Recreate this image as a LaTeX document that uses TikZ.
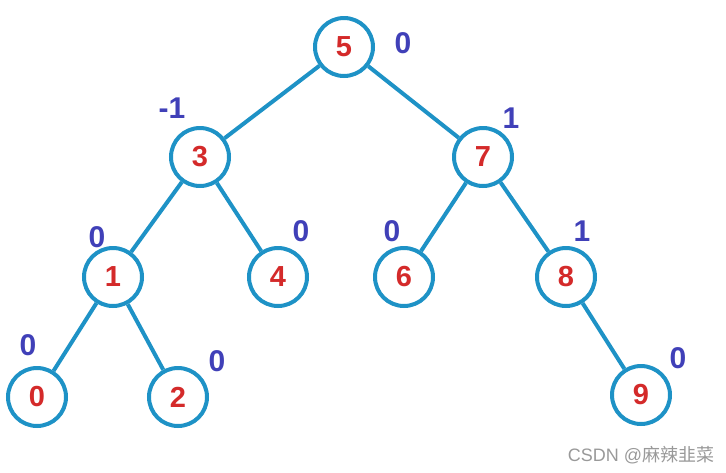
\documentclass[tikz,border=0pt]{standalone}
\usepackage{fontspec}
\setmainfont{Liberation Sans}
\newfontfamily\cjkfont{Noto Sans CJK SC}
\definecolor{edgeblue}{HTML}{1E92C6}
\definecolor{numred}{HTML}{D42A2A}
\definecolor{balblue}{HTML}{4040B8}
\begin{document}
\begin{tikzpicture}[x=1pt,y=-1pt,
  tn/.style={circle,draw=edgeblue,line width=4pt,fill=white,minimum size=58pt,inner sep=0pt,
    font=\fontsize{29}{29}\selectfont\bfseries,text=numred},
  bal/.style={font=\fontsize{30}{30}\selectfont\bfseries,text=balblue,inner sep=0pt},
  edge/.style={draw=edgeblue,line width=4pt}]
\useasboundingbox (0,0) rectangle (726,472);
\node[tn] (n5) at (344,47) {5};
\node[tn] (n3) at (200,157) {3};
\node[tn] (n7) at (483,157) {7};
\node[tn] (n1) at (113,277) {1};
\node[tn] (n4) at (278,277) {4};
\node[tn] (n6) at (404,277) {6};
\node[tn] (n8) at (566,277) {8};
\node[tn] (n0) at (37,397) {0};
\node[tn] (n2) at (178,397) {2};
\node[tn] (n9) at (641,395) {9};
\path[edge] (n5) -- (n3);
\path[edge] (n5) -- (n7);
\path[edge] (n3) -- (n1);
\path[edge] (n3) -- (n4);
\path[edge] (n7) -- (n6);
\path[edge] (n7) -- (n8);
\path[edge] (n1) -- (n0);
\path[edge] (n1) -- (n2);
\path[edge] (n8) -- (n9);
\node[bal] (b5) at (403,43) {0};
\node[bal] (b3) at (172,108) {-1};
\node[bal] (b7) at (511,118) {1};
\node[bal] (b1) at (97,237) {0};
\node[bal] (b4) at (301,231) {0};
\node[bal] (b6) at (392,231) {0};
\node[bal] (b8) at (582,231) {1};
\node[bal] (b0) at (28,345) {0};
\node[bal] (b2) at (217,361) {0};
\node[bal] (b9) at (678,358) {0};
\node[text=gray!80,font=\fontsize{18}{18}\selectfont,inner sep=0pt] (wm) at (641,455) {CSDN @{\cjkfont 麻辣韭菜}};
\end{tikzpicture}
\end{document}
